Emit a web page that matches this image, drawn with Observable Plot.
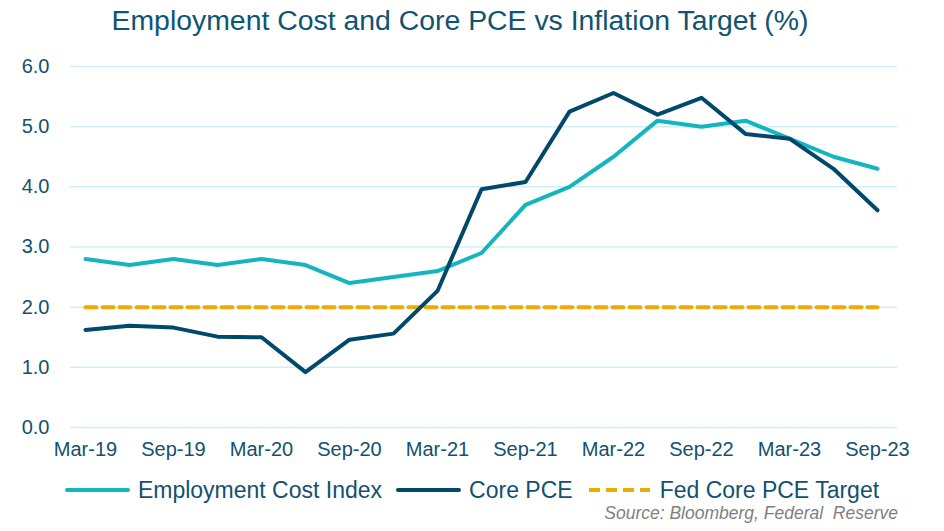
<!DOCTYPE html>
<html>
<head>
<meta charset="utf-8">
<script src="https://cdn.jsdelivr.net/npm/d3@7"></script>
<script src="https://cdn.jsdelivr.net/npm/@observablehq/plot@0.6"></script>
<style>
  html, body { margin: 0; padding: 0; background: #fff; }
  body { width: 944px; height: 531px; position: relative; overflow: hidden; font-family: "Liberation Sans", Arial, sans-serif; color: #12516f; }
  #title { position: absolute; left: 0; top: 0; width: 920px; text-align: center; font-size: 28.4px; line-height: 40px; color: #0e5473; }
  #chart { position: absolute; left: 0; top: 46px; }
  #legend { position: absolute; left: 0; top: 478px; width: 944px; display: flex; justify-content: center; align-items: center; font-size: 23px; line-height: 24px; color: #12516f; }
  .item { display: flex; align-items: center; margin: 0 7px; }
  .sw { width: 65px; height: 0; margin-right: 8px; }
  #source { position: absolute; right: 46px; top: 503px; font-size: 17.5px; font-style: italic; color: #7f7f7f; white-space: pre; }
</style>
</head>
<body>
<div id="title">Employment Cost and Core PCE vs Inflation Target (%)</div>
<div id="chart"></div>
<div id="legend">
  <div class="item"><div class="sw" style="border-top:4px solid #15b5c0;border-radius:2px"></div>Employment Cost Index</div>
  <div class="item"><div class="sw" style="border-top:4px solid #00496b;border-radius:2px"></div>Core PCE</div>
  <div class="item"><svg width="65" height="6" style="margin-right:8px"><line x1="2" y1="3" x2="63" y2="3" stroke="#efab00" stroke-width="4" stroke-dasharray="11 6"/></svg>Fed Core PCE Target</div>
</div>
<div id="source">Source: Bloomberg, Federal  Reserve</div>
<script>
const quarters = ["Mar-19","Jun-19","Sep-19","Dec-19","Mar-20","Jun-20","Sep-20","Dec-20","Mar-21","Jun-21","Sep-21","Dec-21","Mar-22","Jun-22","Sep-22","Dec-22","Mar-23","Jun-23","Sep-23"];
const eci =     [2.8, 2.7, 2.8, 2.7, 2.8, 2.7, 2.4, 2.5, 2.6, 2.9, 3.7, 4.0, 4.5, 5.1, 5.0, 5.1, 4.8, 4.5, 4.3];
const corePce = [1.62, 1.69, 1.66, 1.51, 1.50, 0.92, 1.46, 1.56, 2.27, 3.96, 4.08, 5.25, 5.56, 5.20, 5.48, 4.88, 4.80, 4.30, 3.61];
const target = 2.0;
const xTickLabels = ["Mar-19","Sep-19","Mar-20","Sep-20","Mar-21","Sep-21","Mar-22","Sep-22","Mar-23","Sep-23"];
const yTicks = [0, 1, 2, 3, 4, 5, 6];

const eciData = quarters.map((q, i) => ({q, v: eci[i]}));
const pceData = quarters.map((q, i) => ({q, v: corePce[i]}));
const targetData = quarters.map(q => ({q, v: target}));

const chart = Plot.plot({
  width: 944,
  height: 421,
  marginTop: 20,
  marginBottom: 40,
  marginLeft: 70,
  marginRight: 47,
  style: { fontFamily: "'Liberation Sans', Arial, sans-serif", color: "#12516f", background: "transparent" },
  x: { type: "point", domain: quarters, padding: 0, range: [77, 885] },
  y: { domain: [0, 6] },
  marks: [
    Plot.gridY(yTicks, { stroke: "#cfeefa", strokeOpacity: 1, strokeWidth: 1.5 }),
    Plot.axisY(yTicks, { tickSize: 0, tickPadding: 21, tickFormat: d3.format(".1f"), fontSize: 20, label: null, fill: "#12516f" }),
    Plot.axisX(xTickLabels, { tickSize: 0, tickPadding: 14, fontSize: 20, label: null, fill: "#12516f" }),
    Plot.line(targetData, { x: "q", y: "v", stroke: "#efab00", strokeWidth: 4, strokeDasharray: "11 6" }),
    Plot.line(eciData, { x: "q", y: "v", stroke: "#15b5c0", strokeWidth: 4 }),
    Plot.line(pceData, { x: "q", y: "v", stroke: "#00496b", strokeWidth: 4 })
  ]
});
document.getElementById("chart").appendChild(chart);
</script>
</body>
</html>
